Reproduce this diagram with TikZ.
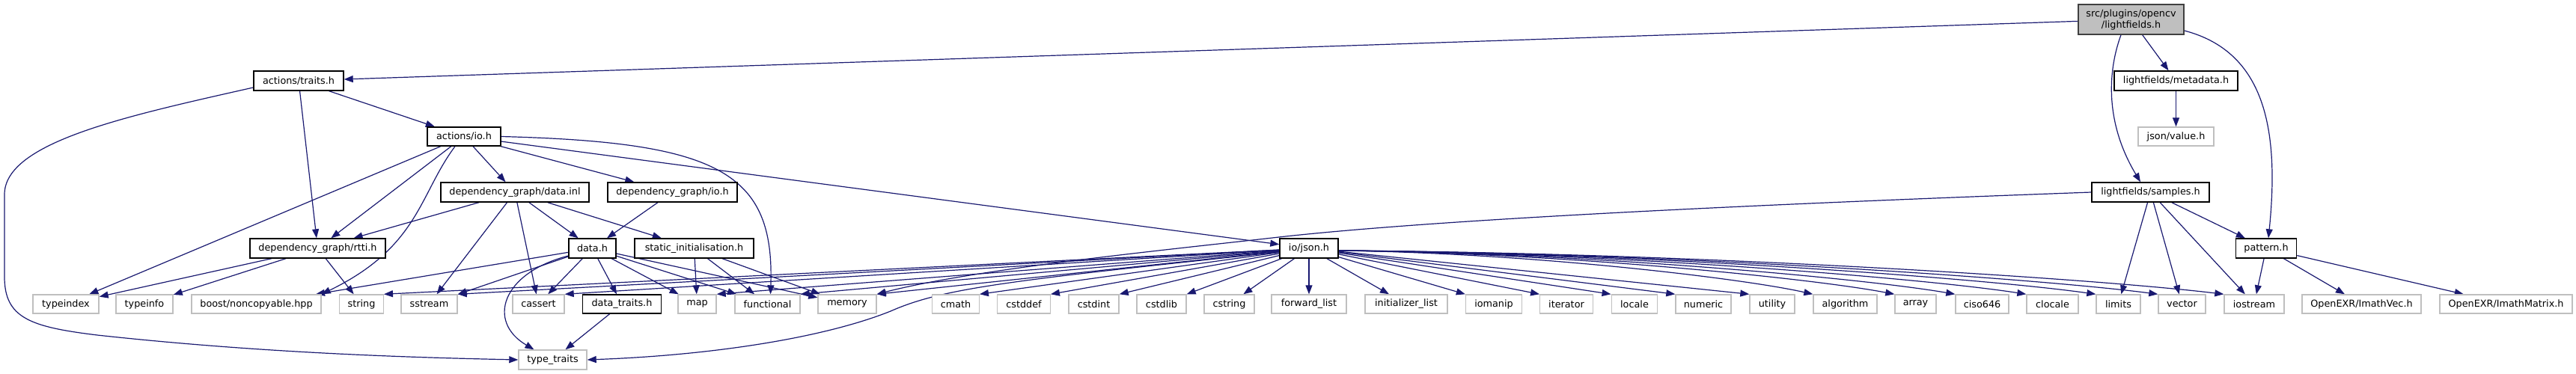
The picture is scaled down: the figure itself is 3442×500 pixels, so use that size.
\documentclass[tikz,border=0pt]{standalone}
\usepackage{fontspec}
\setmainfont{DejaVu Sans}
\usetikzlibrary{arrows.meta,backgrounds}
\definecolor{edgeblue}{HTML}{191970}
\definecolor{extgray}{HTML}{BFBFBF}
\definecolor{rootfill}{HTML}{BFBFBF}
\definecolor{rootborder}{HTML}{404040}
\tikzset{
  box/.style={rectangle, inner sep=0pt, font=\fontsize{12.8}{15}\selectfont, text=black, fill=white},
  doc/.style={box, draw=black, line width=1.4pt},
  ext/.style={box, draw=extgray, line width=1.4pt},
  rootbox/.style={box, draw=rootborder, fill=rootfill, line width=1.4pt, align=center},
  dep/.style={draw=edgeblue, line width=1.2pt, -{Triangle[length=12pt,width=9pt]}},
  r2/.style={minimum height=26pt},
  r3/.style={minimum height=25pt},
}
\begin{document}
\begin{tikzpicture}[x=1pt,y=-1pt]
\useasboundingbox (0,0) rectangle (3442,500);
% level 1
\node[rootbox, minimum width=141pt, minimum height=40pt] (root) at (2847.5,26) {src/plugins/opencv\\/lightfields.h};
% level 2
\node[doc, r2, minimum width=120pt] (traits) at (399,108) {actions/traits.h};
\node[doc, r2, minimum width=165pt] (metadata) at (2907.5,108) {lightfields/metadata.h};
% level 3
\node[doc, r3, minimum width=98pt] (aio) at (620,182.5) {actions/io.h};
\node[ext, r3, minimum width=101pt] (jsonvalue) at (2907.5,182.5) {json/value.h};
% level 4
\node[doc, r2, minimum width=198pt] (datainl) at (688,257) {dependency\_graph/data.inl};
\node[doc, r2, minimum width=173pt] (dgio) at (898.5,257) {dependency\_graph/io.h};
\node[doc, r2, minimum width=157pt] (samples) at (2873.5,257) {lightfields/samples.h};
% level 5
\node[doc, r2, minimum width=181pt] (rtti) at (424.5,332) {dependency\_graph/rtti.h};
\node[doc, r2, minimum width=63pt] (datah) at (791.5,332) {data.h};
\node[doc, r2, minimum width=159pt] (static) at (927.5,332) {static\_initialisation.h};
\node[doc, r2, minimum width=78pt] (json) at (1749,332) {io/json.h};
\node[doc, r2, minimum width=81pt] (pattern) at (3028,332) {pattern.h};
% level 6
\node[ext, r3, minimum width=88pt] (typeindex) at (88,406.5) {typeindex};
\node[ext, r3, minimum width=76pt] (typeinfo) at (193,406.5) {typeinfo};
\node[ext, r3, minimum width=173pt] (boost) at (342.5,406.5) {boost/noncopyable.hpp};
\node[ext, r3, minimum width=58.5pt] (string) at (483,406.5) {string};
\node[ext, r3, minimum width=75pt] (sstream) at (573.5,406.5) {sstream};
\node[ext, r3, minimum width=69pt] (cassert) at (719.5,406.5) {cassert};
\node[doc, r3, minimum width=104.5pt] (datatraits) at (831,406.5) {data\_traits.h};
\node[ext, r3, minimum width=51pt] (map) at (931.5,406.5) {map};
\node[ext, r3, minimum width=87pt] (functional) at (1025.5,406.5) {functional};
\node[ext, r3, minimum width=78pt] (memory) at (1132,406.5) {memory};
\node[ext, r3, minimum width=62.5pt] (cmath) at (1277,406.5) {cmath};
\node[ext, r3, minimum width=70.5pt] (cstddef) at (1368,406.5) {cstddef};
\node[ext, r3, minimum width=67pt] (cstdint) at (1461.5,406.5) {cstdint};
\node[ext, r3, minimum width=66pt] (cstdlib) at (1552,406.5) {cstdlib};
\node[ext, r3, minimum width=67pt] (cstring) at (1642.5,406.5) {cstring};
\node[ext, r3, minimum width=100pt] (forwardlist) at (1749,406.5) {forward\_list};
\node[ext, r3, minimum width=110pt] (initlist) at (1879,406.5) {initializer\_list};
\node[ext, r3, minimum width=75pt] (iomanip) at (1996,406.5) {iomanip};
\node[ext, r3, minimum width=70.5pt] (iterator) at (2093,406.5) {iterator};
\node[ext, r3, minimum width=61.5pt] (locale) at (2184,406.5) {locale};
\node[ext, r3, minimum width=74pt] (numeric) at (2276,406.5) {numeric};
\node[ext, r3, minimum width=60pt] (utility) at (2368,406.5) {utility};
\node[ext, r3, minimum width=85pt] (algorithm) at (2465.5,406.5) {algorithm};
\node[ext, r3, minimum width=55pt] (array) at (2559.5,406.5) {array};
\node[ext, r3, minimum width=71pt] (ciso) at (2648.5,406.5) {ciso646};
\node[ext, r3, minimum width=69pt] (clocale) at (2742.5,406.5) {clocale};
\node[ext, r3, minimum width=59pt] (limits) at (2830.5,406.5) {limits};
\node[ext, r3, minimum width=63pt] (vector) at (2915.5,406.5) {vector};
\node[ext, r3, minimum width=80pt] (iostream) at (3012,406.5) {iostream};
\node[ext, r3, minimum width=159pt] (imathvec) at (3155.5,406.5) {OpenEXR/ImathVec.h};
\node[ext, r3, minimum width=177pt] (imathmatrix) at (3348.5,406.5) {OpenEXR/ImathMatrix.h};
% level 7
\node[ext, r2, minimum width=91pt] (tt) at (738.5,481) {type\_traits};

\begin{scope}[on background layer]
% root
\draw[dep] (root) -- (traits);
\draw[dep] (root) -- (metadata);
\draw[dep] ([xshift=-13.5pt]root.south) .. controls (2818,90) and (2810,160) .. ([xshift=-13.5pt]samples.north);
\draw[dep] ([yshift=-15pt]root.east) .. controls (3030,70) and (3045,180) .. ([xshift=3pt]pattern.north);
\draw[dep] (metadata) -- (jsonvalue);
% samples
\draw[dep] (samples) -- (pattern);
\draw[dep] (samples) -- (limits);
\draw[dep] (samples) -- (vector);
\draw[dep] (samples) -- (iostream);
\draw[dep] (samples.west) .. controls (2300,275) and (1900,295) .. (1700,318) .. controls (1550,335) and (1300,360) .. (memory.north east);
% pattern
\draw[dep] (pattern) -- (iostream);
\draw[dep] (pattern) -- (imathvec);
\draw[dep] (pattern) -- (imathmatrix);
% traits
\draw[dep] (traits) -- (aio);
\draw[dep] (traits) -- (rtti);
\draw[dep] ([yshift=-9pt]traits.west) .. controls (170,155) and (6,190) .. (6,260) -- (6,370) .. controls (6,425) and (40,437) .. (130,448) .. controls (350,472) and (550,478) .. (tt.west);
% actions/io.h
\draw[dep] (aio) -- (rtti);
\draw[dep] (aio) -- (typeindex);
\draw[dep] (aio) -- (datainl);
\draw[dep] (aio) -- (dgio);
\draw[dep] (aio) -- (json);
\draw[dep] ([xshift=-12pt]aio.south) .. controls (560,260) and (560,330) .. (boost.north east);
\draw[dep] (aio.east) .. controls (960,190) and (1035,230) .. ([xshift=4pt]functional.north);
% data.inl
\draw[dep] (datainl) -- (rtti);
\draw[dep] (datainl) -- (sstream);
\draw[dep] (datainl) -- (cassert);
\draw[dep] (datainl) -- (datah);
\draw[dep] (datainl) -- (static);
\draw[dep] (dgio) -- (datah);
% rtti
\draw[dep] (rtti) -- (typeindex);
\draw[dep] (rtti) -- (typeinfo);
\draw[dep] (rtti) -- (string);
% data.h
\draw[dep] (datah) -- (boost);
\draw[dep] (datah) -- (sstream);
\draw[dep] (datah) -- (cassert);
\draw[dep] (datah) -- (datatraits);
\draw[dep] (datah) -- (map);
\draw[dep] (datah) -- (functional);
\draw[dep] (datah) -- (memory);
\draw[dep] ([yshift=-10pt]datah.west) .. controls (670,365) and (650,430) .. ([xshift=-25pt]tt.north);
\draw[dep] (datatraits) -- (tt);
% static
\draw[dep] (static) -- (map);
\draw[dep] (static) -- (functional);
\draw[dep] (static) -- (memory);
% io/json.h to the left
\draw[dep] (json) -- (string.north east);
\draw[dep] (json) -- (sstream.north east);
\draw[dep] (json) -- (cassert.north east);
\draw[dep] (json) -- (map.north east);
\draw[dep] (json) -- (functional.north east);
\draw[dep] (json) -- (memory.north east);
\draw[dep] (json) -- (cmath.north east);
\draw[dep] (json) -- (cstddef.north east);
\draw[dep] (json) -- (cstdint.north east);
\draw[dep] (json) -- (cstdlib.north east);
\draw[dep] (json) -- (cstring);
\draw[dep] ([yshift=-5pt]json.west) .. controls (1350,375) and (1260,385) .. (1190,416) .. controls (1100,452) and (950,475) .. (tt.east);
% io/json.h downwards and to the right
\draw[dep] (json) -- (forwardlist);
\draw[dep] (json) -- (initlist);
\draw[dep] (json) -- (iomanip.north west);
\draw[dep] (json) -- (iterator.north west);
\draw[dep] (json) -- (locale.north west);
\draw[dep] (json) -- (numeric.north west);
\draw[dep] (json) -- (utility.north west);
\draw[dep] ([yshift=-3pt]json.east) .. controls (2042,338) and (2328,372) .. (algorithm.north west);
\draw[dep] ([yshift=-3pt]json.east) .. controls (2086,338) and (2420,372) .. (array.north west);
\draw[dep] ([yshift=-3pt]json.east) .. controls (2118,338) and (2489,372) .. (ciso.north west);
\draw[dep] ([yshift=-3pt]json.east) .. controls (2156,338) and (2570,372) .. (clocale.north west);
\draw[dep] ([yshift=-3pt]json.east) .. controls (2193,338) and (2649,372) .. (limits.north west);
\draw[dep] ([yshift=-3pt]json.east) .. controls (2226,338) and (2720,372) .. (vector.north west);
\draw[dep] ([yshift=-3pt]json.east) .. controls (2262,338) and (2794,372) .. (iostream.north west);
\end{scope}
\end{tikzpicture}
\end{document}
